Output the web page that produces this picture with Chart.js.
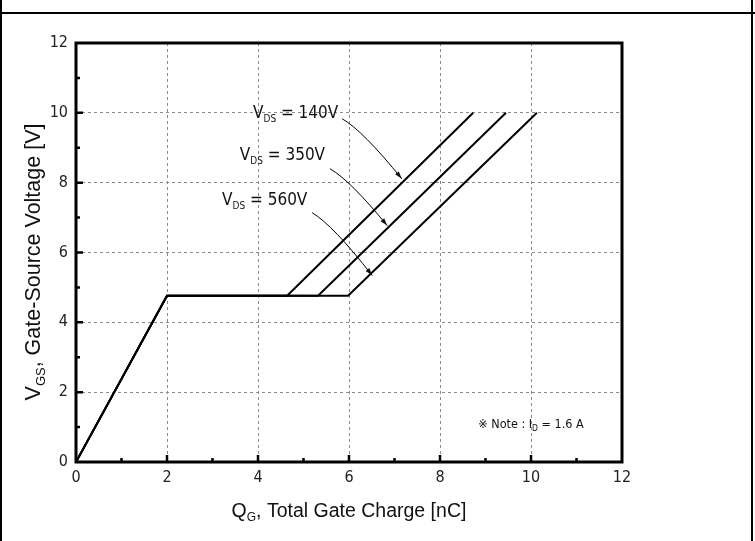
<!DOCTYPE html>
<html>
<head>
<meta charset="utf-8">
<script src="https://cdn.jsdelivr.net/npm/chart.js@4/dist/chart.umd.min.js"></script>
<style>
html,body{margin:0;padding:0;background:#fff;}
#wrap{position:relative;width:755px;height:541px;}
</style>
</head>
<body>
<div id="wrap"><canvas id="c" width="755" height="541"></canvas></div>
<script>
// ---- data ----
const vgsLevels = [0, 4.76, 4.76, 10];
const qg140 = [0, 2, 4.64, 8.73];
const qg350 = [0, 2, 5.32, 9.45];
const qg560 = [0, 2, 5.98, 10.13];
const seriesNames = ['VDS = 140V', 'VDS = 350V', 'VDS = 560V'];
const xTicks = [0, 2, 4, 6, 8, 10, 12];
const yTicks = [0, 2, 4, 6, 8, 10, 12];
// annotation anchors (data units): label left/centre, arrow start, arrow end
const labelVds = ['140V', '350V', '560V'];
const labelPos = [[3.89, 9.97], [3.60, 8.77], [3.21, 7.49]];
const arrowFrom = [[5.85, 9.83], [5.58, 8.40], [5.19, 7.14]];
const arrowTo = [[7.16, 8.11], [6.84, 6.77], [6.51, 5.34]];
const notePos = [8.84, 1.06];
const noteCurrent = '1.6 A';

const NARROW = "'Liberation Sans Narrow','Arial Narrow','DejaVu Sans Condensed',sans-serif";
const SANS = "'Liberation Sans',Arial,sans-serif";

function pts(xs, ys) { return xs.map((x, i) => ({x: x, y: ys[i]})); }

function drawSubText(ctx, parts, x, y, align) {
  // parts: [text, size, dy, family]
  let total = 0;
  parts.forEach(p => { ctx.font = p[1] + 'px ' + p[3]; total += ctx.measureText(p[0]).width; });
  let cx = align === 'center' ? x - total / 2 : x;
  ctx.textAlign = 'left';
  ctx.textBaseline = 'middle';
  parts.forEach(p => {
    ctx.font = p[1] + 'px ' + p[3];
    ctx.fillText(p[0], cx, y + p[2]);
    cx += ctx.measureText(p[0]).width;
  });
}

const decor = {
  id: 'decor',
  afterDraw(chart) {
    const ctx = chart.ctx;
    const xs = chart.scales.x, ys = chart.scales.y;
    const a = chart.chartArea;
    ctx.save();
    ctx.fillStyle = '#000';
    ctx.strokeStyle = '#000';
    // outer page frame
    ctx.lineWidth = 2;
    ctx.beginPath();
    ctx.moveTo(0, 13); ctx.lineTo(755, 13);
    ctx.moveTo(1, 0); ctx.lineTo(1, 541);
    ctx.moveTo(752, 0); ctx.lineTo(752, 541);
    ctx.stroke();
    // plot frame
    ctx.lineWidth = 3;
    ctx.strokeRect(a.left, a.top, a.right - a.left, a.bottom - a.top);
    // inside ticks
    ctx.lineWidth = 2.5;
    ctx.beginPath();
    for (let v = 1; v < 12; v++) {
      const len = v % 2 === 0 ? 7 : 4;
      const px = xs.getPixelForValue(v);
      ctx.moveTo(px, a.bottom); ctx.lineTo(px, a.bottom - len);
      const py = ys.getPixelForValue(v);
      ctx.moveTo(a.left, py); ctx.lineTo(a.left + len, py);
    }
    ctx.stroke();
    // axis titles
    ctx.fillStyle = '#111';
    drawSubText(ctx, [['Q', 19.5, 0, SANS], ['G', 12, 6, SANS], [', Total Gate Charge [nC]', 19.5, 0, SANS]],
      (a.left + a.right) / 2, 512, 'center');
    ctx.save();
    ctx.translate(34, 262);
    ctx.rotate(-Math.PI / 2);
    drawSubText(ctx, [['V', 21.5, 0, SANS], ['GS', 13, 7, SANS], [', Gate-Source Voltage [V]', 21.5, 0, SANS]],
      0, 0, 'center');
    ctx.restore();
    // series labels + arrows
    ctx.fillStyle = '#111';
    for (let i = 0; i < 3; i++) {
      const lx = xs.getPixelForValue(labelPos[i][0]), ly = ys.getPixelForValue(labelPos[i][1]);
      drawSubText(ctx, [['V', 17, 0, NARROW], ['DS', 10, 6, NARROW], [' = ' + labelVds[i], 17, 0, NARROW]], lx, ly, 'left');
      const x0 = xs.getPixelForValue(arrowFrom[i][0]), y0 = ys.getPixelForValue(arrowFrom[i][1]);
      const x1 = xs.getPixelForValue(arrowTo[i][0]), y1 = ys.getPixelForValue(arrowTo[i][1]);
      const cx = x0 + (x1 - x0) * 0.35, cy = y0 + (y1 - y0) * 0.2;
      ctx.lineWidth = 1;
      ctx.beginPath();
      ctx.moveTo(x0, y0);
      ctx.quadraticCurveTo(cx, cy, x1, y1);
      ctx.stroke();
      const ang = Math.atan2(y1 - cy, x1 - cx);
      ctx.beginPath();
      ctx.moveTo(x1, y1);
      ctx.lineTo(x1 - 8 * Math.cos(ang - 0.3), y1 - 8 * Math.sin(ang - 0.3));
      ctx.lineTo(x1 - 8 * Math.cos(ang + 0.3), y1 - 8 * Math.sin(ang + 0.3));
      ctx.closePath();
      ctx.fill();
    }
    // note
    const nx = xs.getPixelForValue(notePos[0]), ny = ys.getPixelForValue(notePos[1]);
    drawSubText(ctx, [['\u203B Note : I', 12.5, 0, NARROW], ['D', 8.5, 4, NARROW], [' = ' + noteCurrent, 12.5, 0, NARROW]], nx, ny, 'left');
    ctx.restore();
  }
};

const gridColor = c => (c.tick && (c.tick.value === 0 || c.tick.value === 12)) ? 'rgba(0,0,0,0)' : '#8a8a8a';

new Chart(document.getElementById('c'), {
  type: 'scatter',
  data: {
    datasets: [
      {label: seriesNames[0], data: pts(qg140, vgsLevels)},
      {label: seriesNames[1], data: pts(qg350, vgsLevels)},
      {label: seriesNames[2], data: pts(qg560, vgsLevels)}
    ].map(d => Object.assign(d, {showLine: true, borderColor: '#000', borderWidth: 2, pointRadius: 0, fill: false, tension: 0}))
  },
  options: {
    responsive: false,
    animation: false,
    devicePixelRatio: 1,
    layout: {padding: {top: 43, right: 133, left: 0, bottom: 0}},
    plugins: {legend: {display: false}, tooltip: {enabled: false}},
    scales: {
      x: {
        type: 'linear', min: 0, max: 12,
        afterBuildTicks: s => { s.ticks = xTicks.map(v => ({value: v})); },
        ticks: {color: '#222', font: {family: NARROW, size: 16}, padding: 6, maxRotation: 0},
        grid: {color: gridColor, lineWidth: 1, drawTicks: false, borderDash: [3, 3]},
        border: {display: false, dash: [3, 3]},
        afterFit: s => { s.height = 79; }
      },
      y: {
        type: 'linear', min: 0, max: 12,
        afterBuildTicks: s => { s.ticks = yTicks.map(v => ({value: v})); },
        ticks: {color: '#222', font: {family: NARROW, size: 16}, padding: 8},
        grid: {color: gridColor, lineWidth: 1, drawTicks: false, borderDash: [3, 3]},
        border: {display: false, dash: [3, 3]},
        afterFit: s => { s.width = 76; }
      }
    }
  },
  plugins: [decor]
});
</script>
</body>
</html>
